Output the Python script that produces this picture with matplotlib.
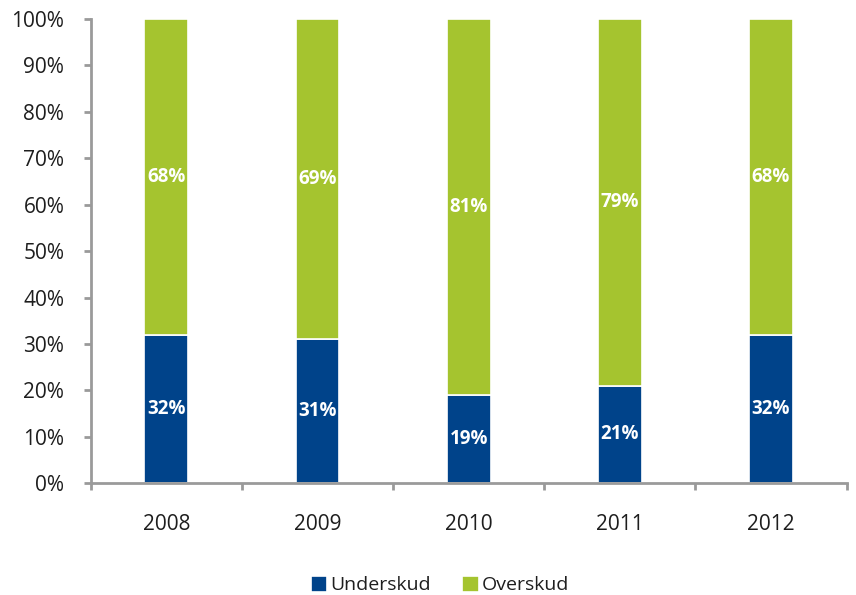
import matplotlib
matplotlib.use("Agg")
import matplotlib.pyplot as plt
import numpy as np

years = ["2008", "2009", "2010", "2011", "2012"]
underskud = [32, 31, 19, 21, 32]
overskud = [68, 69, 81, 79, 68]
yticks = [0, 10, 20, 30, 40, 50, 60, 70, 80, 90, 100]

blue = "#00438A"
green = "#A5C42F"
axis_gray = "#9A9A9A"
text_col = "#1E1E1E"

plt.rcParams["font.family"] = ["Open Sans", "DejaVu Sans"]

fig = plt.figure(figsize=(8.56, 5.95), dpi=100)
ax = fig.add_axes([0.106, 0.188, 0.883, 0.780])

x = np.arange(len(years))
w = 0.29
ax.bar(x, underskud, width=w, color=blue, edgecolor="white", linewidth=1.2, label="Underskud")
ax.bar(x, overskud, width=w, bottom=underskud, color=green, edgecolor="white", linewidth=1.2, label="Overskud")

for xi, u, o in zip(x, underskud, overskud):
    ax.text(xi, u / 2, f"{u}%", ha="center", va="center", color="white",
            fontsize=13.5, fontweight="bold")
    ax.text(xi, u + o / 2, f"{o}%", ha="center", va="center", color="white",
            fontsize=13.5, fontweight="bold")

ax.set_xlim(-0.5, len(years) - 0.5)
ax.set_ylim(0, 100)
ax.set_yticks(yticks)
ax.set_yticklabels([f"{t}%" for t in yticks])
ax.set_xticks(x)
ax.set_xticklabels(years)
ax.set_xticks(np.arange(-0.5, len(years)), minor=True)

for s in ["top", "right"]:
    ax.spines[s].set_visible(False)
for s in ["left", "bottom"]:
    ax.spines[s].set_color(axis_gray)
    ax.spines[s].set_linewidth(2)

ax.tick_params(axis="y", direction="out", length=5, width=2, color=axis_gray,
               labelsize=15, labelcolor=text_col, pad=14)
ax.tick_params(axis="x", which="major", length=0, labelsize=15, labelcolor=text_col, pad=22)
ax.tick_params(axis="x", which="minor", direction="out", length=5, width=2, color=axis_gray)

ax.legend(loc="center", bbox_to_anchor=(0.462, -0.22), ncol=2, frameon=False,
          fontsize=14, handlelength=0.85, handleheight=0.85, handletextpad=0.15,
          columnspacing=1.6, labelcolor=text_col)

fig.savefig("out.png", dpi=100)
